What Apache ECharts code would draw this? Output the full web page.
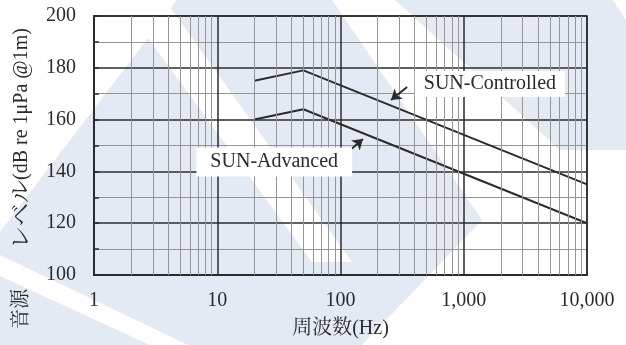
<!DOCTYPE html>
<html>
<head>
<meta charset="utf-8">
<script src="https://cdn.jsdelivr.net/npm/echarts@6/dist/echarts.min.js"></script>
<style>
  html, body { margin: 0; padding: 0; background: #ffffff; }
  #chart { width: 626px; height: 345px; }
</style>
</head>
<body>
<div id="chart"></div>
<script>
// Source level spectra (frequency in Hz, level in dB re 1μPa @1m)
const frequencies = [20, 50, 10000];
const controlledLevels = [175, 179, 135];
const advancedLevels = [160, 164, 120];

const seriesNames = ['SUN-Controlled', 'SUN-Advanced'];
const xTickValues = [1, 10, 100, 1000, 10000];
const yTickValues = [100, 120, 140, 160, 180, 200];

// Label anchors and arrow ends, in data space [Hz, dB]
const controlledLabelAt = [1630, 173.7];
const advancedLabelAt = [29, 143.6];
const controlledArrow = [[347, 172.6], [257, 167.6]];
const advancedArrow = [[115, 147.5], [152, 152.5]];

const SERIF = '"Liberation Serif", "Noto Serif CJK JP", "Noto Sans CJK JP", serif';
const INK = '#2b2b2b';

// 2..9 within every decade for the fine vertical grid
const minorFreqs = [];
for (let d = 1; d < 10000; d *= 10) {
  for (let k = 2; k <= 9; k++) minorFreqs.push(k * d);
}

const pairs = (ys) => frequencies.map((f, i) => [f, ys[i]]);

const chart = echarts.init(document.getElementById('chart'), null, { renderer: 'canvas' });

// faint diagonal backdrop
const wash = '#e4eaf4';
const washShapes = [
  [[177, 0], [332, 0], [482, 220], [362, 345], [0, 345], [0, 232]],
  [[395, 0], [613, 0], [626, 20], [626, 150], [560, 150]]
];
const whiteStripes = [
  [[120, 0], [165, 0], [352, 262], [312, 262]],
  [[0, 255], [0, 276], [150, 345], [188, 345]]
];

chart.setOption({
  animation: false,
  backgroundColor: '#ffffff',
  graphic: [
    ...washShapes.map(p => ({ type: 'polygon', z: -20, silent: true, shape: { points: p }, style: { fill: wash } })),
    ...whiteStripes.map(p => ({ type: 'polygon', z: -19, silent: true, shape: { points: p }, style: { fill: '#ffffff' } }))
  ],
  grid: { left: 94, right: 39, top: 16, bottom: 70, show: true, borderColor: INK, borderWidth: 1.5, backgroundColor: 'transparent' },
  xAxis: {
    type: 'log',
    logBase: 10,
    min: xTickValues[0],
    max: xTickValues[xTickValues.length - 1],
    name: '周波数(Hz)',
    nameLocation: 'middle',
    nameGap: 44,
    nameTextStyle: { fontFamily: SERIF, fontSize: 20, color: INK },
    axisLine: { show: true, lineStyle: { color: INK, width: 2 } },
    axisTick: { show: false },
    axisLabel: {
      fontFamily: SERIF, fontSize: 20, color: INK, margin: 16,
      formatter: v => String(Math.round(v)).replace(/\B(?=(\d{3})+(?!\d))/g, ',')
    },
    splitLine: { show: true, lineStyle: { color: INK, width: 1.5 } }
  },
  yAxis: {
    type: 'value',
    min: yTickValues[0],
    max: yTickValues[yTickValues.length - 1],
    interval: 20,
    name: '{a|音源}{s|　　}{b|レベル}{c|(dB re 1μPa @1m)}',
    nameLocation: 'middle',
    nameGap: 61,
    nameTextStyle: {
      fontFamily: SERIF, fontSize: 20, color: INK,
      padding: [0, 66, 0, 0],
      rich: {
        a: { fontFamily: SERIF, fontSize: 20, color: INK },
        s: { fontFamily: SERIF, fontSize: 20, color: INK },
        b: { fontFamily: SERIF, fontSize: 23, color: INK },
        c: { fontFamily: SERIF, fontSize: 20, color: INK }
      }
    },
    axisLine: { show: true, lineStyle: { color: INK, width: 2 } },
    axisTick: { show: true, inside: true, length: 5, lineStyle: { color: INK, width: 1.5 } },
    minorTick: { show: true, splitNumber: 2, length: 5, lineStyle: { color: INK, width: 1.5 } },
    axisLabel: { fontFamily: SERIF, fontSize: 20, color: INK, margin: 18 },
    splitLine: { show: true, lineStyle: { color: INK, width: 1.5 } },
    minorSplitLine: { show: true, lineStyle: { color: '#959595', width: 1 } }
  },
  series: [
    {
      name: 'minor-grid',
      type: 'line',
      data: [],
      z: 1,
      silent: true,
      markLine: {
        silent: true,
        symbol: ['none', 'none'],
        label: { show: false },
        lineStyle: { color: '#959595', width: 1, type: 'solid' },
        data: minorFreqs.map(f => ({ xAxis: f }))
      }
    },
    {
      name: seriesNames[0],
      type: 'line',
      data: pairs(controlledLevels),
      z: 4,
      symbol: 'none',
      lineStyle: { color: INK, width: 2 },
      markPoint: {
        symbol: 'rect', symbolSize: 0,
        data: [{ coord: controlledLabelAt }],
        label: {
          show: true, position: 'inside', formatter: seriesNames[0],
          fontFamily: SERIF, fontSize: 20, color: INK,
          backgroundColor: '#ffffff', padding: [3, 9, 3, 9], lineHeight: 20
        }
      },
      markLine: {
        silent: true,
        symbol: ['none', 'arrow'],
        symbolSize: 10,
        label: { show: false },
        lineStyle: { color: INK, width: 2, type: 'solid' },
        data: [[{ coord: controlledArrow[0] }, { coord: controlledArrow[1] }]]
      }
    },
    {
      name: seriesNames[1],
      type: 'line',
      data: pairs(advancedLevels),
      z: 4,
      symbol: 'none',
      lineStyle: { color: INK, width: 2 },
      markPoint: {
        symbol: 'rect', symbolSize: 0,
        data: [{ coord: advancedLabelAt }],
        label: {
          show: true, position: 'inside', formatter: seriesNames[1],
          fontFamily: SERIF, fontSize: 20, color: INK,
          backgroundColor: '#ffffff', padding: [5, 14, 4, 14], lineHeight: 20
        }
      },
      markLine: {
        silent: true,
        symbol: ['none', 'arrow'],
        symbolSize: 10,
        label: { show: false },
        lineStyle: { color: INK, width: 2, type: 'solid' },
        data: [[{ coord: advancedArrow[0] }, { coord: advancedArrow[1] }]]
      }
    }
  ]
});
</script>
</body>
</html>
